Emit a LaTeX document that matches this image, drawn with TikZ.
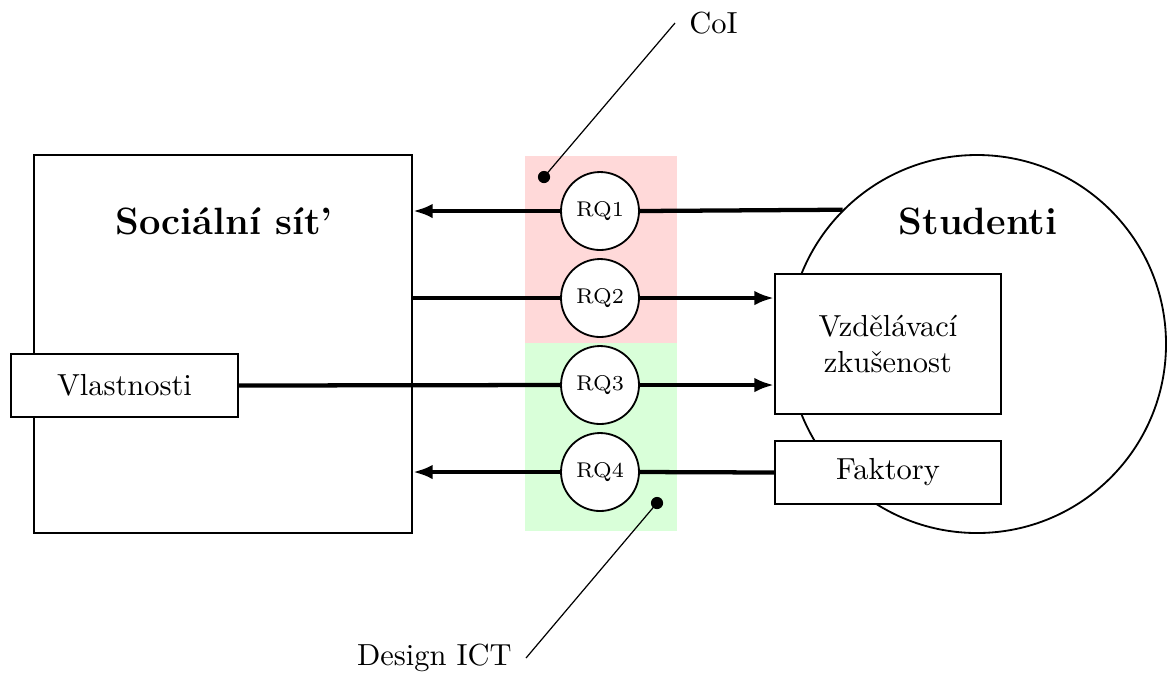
\documentclass[tikz,border=0pt]{standalone}
\usepackage{fontspec}
\usetikzlibrary{arrows.meta}
\begin{document}
\begin{tikzpicture}[x=0.3283pt,y=-0.3283pt,
  box/.style={draw,semithick,fill=white,inner sep=0pt,align=center},
  rq/.style={circle,draw,semithick,fill=white,minimum size=25.6pt,inner sep=0pt,font=\scriptsize},
  conn/.style={line width=1.4pt},
  arr/.style={line width=1.4pt,-{Latex[length=6.5pt,width=4.8pt]}},
  dotst/.style={circle,fill=black,inner sep=0pt,minimum size=4pt},
  heading/.style={font=\fontsize{12.5}{15}\selectfont\bfseries,inner sep=0pt},
  note/.style={inner ysep=0pt,inner xsep=4.5pt},
  pointer/.style={thin}]
\useasboundingbox (0,0) rectangle (1168,673);
% coloured bands
\fill[red!15] (525,156) rectangle (677,343);
\fill[green!15] (525,343) rectangle (677,531);
% main shapes
\node[box,minimum width=124.1pt,minimum height=124.1pt] (soc) at (223,344) {};
\node[circle,draw,semithick,minimum size=124.1pt,inner sep=0pt] (stud) at (977,344) {};
\node[heading] (soct) at (224,221) {Sociální sít’};
\node[heading] (studt) at (978,221) {Studenti};
\node[box,minimum width=74.2pt,minimum height=46pt] (vz) at (888,344) {Vzdělávací\\zkušenost};
\node[box,minimum width=74.2pt,minimum height=20.7pt] (fk) at (888,472.5) {Faktory};
\node[box,minimum width=74.5pt,minimum height=20.7pt] (vl) at (124.5,385.5) {Vlastnosti};
% RQ nodes
\node[rq] (rq1) at (600,211) {RQ1};
\node[rq] (rq2) at (600,298) {RQ2};
\node[rq] (rq3) at (600,385) {RQ3};
\node[rq] (rq4) at (600,472) {RQ4};
% connectors
\draw[conn] (stud.135.3) -- (rq1.east);
\draw[arr] (rq1.west) -- (rq1.west -| soc.east);
\draw[conn] (rq2.west -| soc.east) -- (rq2.west);
\draw[arr] (rq2.east) -- (rq2.east -| vz.west);
\draw[conn] (vl.east) -- (rq3.west);
\draw[arr] (rq3.east) -- (rq3.east -| vz.west);
\draw[conn] (fk.west) -- (rq4.east);
\draw[arr] (rq4.west) -- (rq4.west -| soc.east);
% annotations
\node[dotst] (coidot) at (544,177) {};
\node[note,anchor=west] (coi) at (675,23) {CoI};
\draw[pointer] (coidot.center) -- (coi.west);
\node[dotst] (ictdot) at (657,503) {};
\node[note,anchor=east] (ict) at (526,658) {Design ICT};
\draw[pointer] (ictdot.center) -- (ict.east);
\end{tikzpicture}
\end{document}
